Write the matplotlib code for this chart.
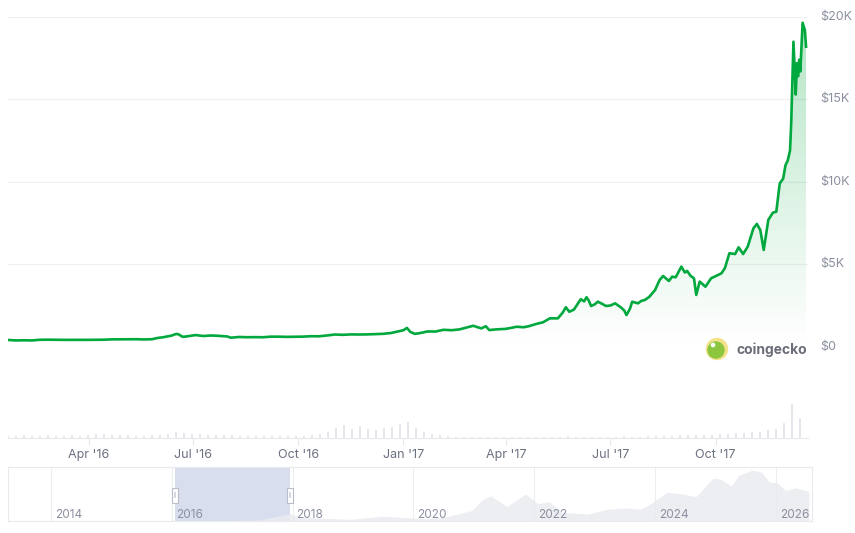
import numpy as np
import pandas as pd
import matplotlib
matplotlib.use('Agg')
import matplotlib.pyplot as plt
import matplotlib.dates as mdates
from matplotlib.colors import to_rgb
from matplotlib.patches import Circle, Rectangle
from matplotlib.transforms import blended_transform_factory

plt.rcParams['font.family'] = ['Inter', 'DejaVu Sans']

# BTC price (USD)
price_dates = [
    '2016-01-21', '2016-01-28', '2016-02-04', '2016-02-11', '2016-02-18', '2016-02-25',
    '2016-03-03', '2016-03-10', '2016-03-17', '2016-03-24', '2016-03-31', '2016-04-07',
    '2016-04-14', '2016-04-21', '2016-04-28', '2016-05-05', '2016-05-12', '2016-05-19',
    '2016-05-26', '2016-05-31', '2016-06-05', '2016-06-12', '2016-06-16', '2016-06-18',
    '2016-06-22', '2016-06-26', '2016-07-03', '2016-07-10', '2016-07-17', '2016-07-24',
    '2016-07-31', '2016-08-03', '2016-08-10', '2016-08-17', '2016-08-24', '2016-08-31',
    '2016-09-07', '2016-09-14', '2016-09-21', '2016-09-28', '2016-10-05', '2016-10-12',
    '2016-10-19', '2016-10-26', '2016-11-02', '2016-11-09', '2016-11-16', '2016-11-23',
    '2016-11-30', '2016-12-07', '2016-12-14', '2016-12-21', '2016-12-25', '2017-01-01',
    '2017-01-04', '2017-01-07', '2017-01-11', '2017-01-15', '2017-01-22', '2017-01-29',
    '2017-02-05', '2017-02-12', '2017-02-19', '2017-02-26', '2017-03-03', '2017-03-10',
    '2017-03-14', '2017-03-17', '2017-03-23', '2017-03-31', '2017-04-05', '2017-04-10',
    '2017-04-16', '2017-04-21', '2017-04-27', '2017-05-03', '2017-05-09', '2017-05-16',
    '2017-05-20', '2017-05-23', '2017-05-26', '2017-05-30', '2017-06-05', '2017-06-08',
    '2017-06-10', '2017-06-12', '2017-06-14', '2017-06-17', '2017-06-20', '2017-06-24',
    '2017-06-27', '2017-07-01', '2017-07-05', '2017-07-10', '2017-07-13', '2017-07-15',
    '2017-07-18', '2017-07-20', '2017-07-25', '2017-07-28', '2017-07-31', '2017-08-04',
    '2017-08-09', '2017-08-13', '2017-08-16', '2017-08-21', '2017-08-24', '2017-08-27',
    '2017-09-01', '2017-09-04', '2017-09-06', '2017-09-09', '2017-09-12', '2017-09-14',
    '2017-09-17', '2017-09-22', '2017-09-27', '2017-10-03', '2017-10-06', '2017-10-09',
    '2017-10-13', '2017-10-18', '2017-10-21', '2017-10-25', '2017-10-29', '2017-11-03',
    '2017-11-06', '2017-11-09', '2017-11-12', '2017-11-16', '2017-11-20', '2017-11-23',
    '2017-11-26', '2017-11-29', '2017-12-01', '2017-12-03', '2017-12-05', '2017-12-06',
    '2017-12-08', '2017-12-10', '2017-12-11', '2017-12-12', '2017-12-13', '2017-12-14',
    '2017-12-16', '2017-12-18', '2017-12-19',
]
prices = [
    410, 380, 390, 380, 420, 425,
    420, 415, 418, 416, 415, 422,
    424, 445, 448, 448, 454, 440,
    453, 530, 575, 670, 770, 760,
    595, 630, 705, 650, 680, 655,
    620, 545, 590, 575, 580, 573,
    610, 608, 596, 605, 610, 637,
    630, 680, 740, 720, 745, 740,
    745, 765, 780, 830, 890, 1000,
    1140, 895, 780, 820, 925, 920,
    1025, 1000, 1050, 1180, 1270, 1110,
    1240, 1010, 1050, 1080, 1140, 1210,
    1180, 1250, 1380, 1480, 1720, 1720,
    2050, 2390, 2120, 2250, 2880, 2750,
    3000, 2800, 2470, 2560, 2730, 2590,
    2470, 2500, 2630, 2390, 2200, 1920,
    2300, 2730, 2630, 2780, 2830, 3030,
    3440, 4050, 4290, 3990, 4250, 4210,
    4860, 4500, 4600, 4300, 4150, 3140,
    3950, 3640, 4150, 4350, 4450, 4760,
    5670, 5620, 6030, 5620, 6070, 7180,
    7450, 7080, 5870, 7690, 8130, 8190,
    9900, 10200, 11000, 11300, 11900, 13500,
    18500, 15300, 17200, 16400, 17400, 16700,
    19650, 19200, 18200,
]

# weekly trading volume (relative units), starting 2016-01-21
vol_start = '2016-01-21'
volumes = [
    2, 2, 3, 2, 2, 3, 2, 2, 3, 2, 3,
    4, 4, 3, 3, 3, 2, 2, 3, 3,
    4, 6, 5, 4,
    4, 3, 3, 3,
    3, 2, 2, 2, 2,
    2, 2, 2, 2,
    2, 3, 4, 6,
    10, 13, 9, 12,
    9, 8, 10, 11, 14,
    16, 10, 6, 4,
    3, 2, 1, 1,
    1, 1, 1, 1, 1,
    1, 1, 1, 1,
    1, 1, 1, 2,
    1, 1, 1, 1,
    1, 1, 2, 1, 1,
    2, 2, 2, 2,
    3, 3, 3, 3,
    3, 4, 4, 5,
    5, 6, 6, 8, 9,
    15, 34, 20,
]

# long-range navigator (price in $K)
nav_dates = [
    '2013-04-01', '2013-11-30', '2014-01-15', '2014-06-15', '2015-01-15', '2015-11-01',
    '2016-06-15', '2017-01-01', '2017-06-15', '2017-12-17', '2018-02-06', '2018-06-15',
    '2018-12-15', '2019-06-26', '2019-12-15', '2020-03-15', '2020-07-15', '2020-12-20',
    '2021-02-20', '2021-04-14', '2021-07-20', '2021-11-09', '2022-01-24', '2022-04-01',
    '2022-06-18', '2022-11-20', '2023-03-20', '2023-07-15', '2023-10-10', '2023-12-15',
    '2024-03-14', '2024-06-15', '2024-09-06', '2024-12-17', '2025-02-01', '2025-04-08',
    '2025-05-22', '2025-08-14', '2025-10-06', '2025-11-21', '2026-01-10', '2026-03-01',
    '2026-05-01', '2026-07-20',
]
nav_prices = [
    0.1, 1.0, 0.85, 0.6, 0.25, 0.35,
    0.7, 1.0, 2.5, 17, 9, 6.5,
    3.7, 11, 7.2, 5, 9.5, 24,
    48, 58, 33, 62, 40, 44,
    20, 16, 27, 30, 27, 42,
    66, 62, 56, 98, 96, 80,
    105, 117, 112, 90, 88, 70,
    76, 68,
]
nav_years = [2014, 2016, 2018, 2020, 2022, 2024, 2026]

green = '#00a83e'
grid_c = '#eef0f3'
text_c = '#6b7080'

W, H = 855, 533
fig = plt.figure(figsize=(W / 100, H / 100), dpi=100)

# pixel -> date mapping of the main time axis
ref = mdates.date2num(pd.Timestamp('2016-04-01'))
ppd = 1.1436
x0 = ref + (8 - 89) / ppd
x1 = ref + (808 - 89) / ppd

def fx(px):
    return px / W

def fy(py):
    return 1 - py / H

# main price panel
ax = fig.add_axes([fx(8), fy(346.7), fx(800), (346.7 - 17) / H])
d = pd.to_datetime(price_dates)
dn = mdates.date2num(d)
poly = ax.fill_between(dn, prices, 0, color='none', lw=0)
grad = np.zeros((256, 1, 4))
grad[..., :3] = to_rgb(green)
grad[:, 0, 3] = np.linspace(0.30, 0.0, 256)
im = ax.imshow(grad, aspect='auto', extent=[x0, x1, 0, 20000], origin='upper', zorder=1)
im.set_clip_path(poly.get_paths()[0], transform=ax.transData)
ax.plot(dn, prices, color=green, lw=1.9, zorder=3, solid_joinstyle='round')
ax.set_xlim(x0, x1)
ax.set_ylim(0, 20000)
for v in [0, 5000, 10000, 15000, 20000]:
    ax.axhline(v, color=grid_c, lw=0.9, zorder=0)
    lab = '$0' if v == 0 else '$%dK' % (v // 1000)
    ax.text(1.015, v, lab, transform=blended_transform_factory(ax.transAxes, ax.transData),
            ha='left', va='center', fontsize=9, color='#8b90a0')
ax.set_xticks([])
ax.set_yticks([])
for s in ax.spines.values():
    s.set_visible(False)

# coingecko mark
fig.add_artist(Circle((717, H - 349), 10.5, transform=None, color='#f3e28a', zorder=5))
fig.add_artist(Circle((716, H - 350), 8, transform=None, color='#8cc63f', zorder=6))
fig.add_artist(Circle((713, H - 345), 1.6, transform=None, color='white', zorder=7))
fig.text(fx(736), fy(350), 'coingecko', fontsize=10, fontweight='bold',
         color='#6b6e78', ha='left', va='center')

# volume panel
axv = fig.add_axes([fx(8), fy(438), fx(800), 43 / H])
vd = mdates.date2num(pd.date_range(vol_start, periods=len(volumes), freq='7D'))
axv.bar(vd, volumes, width=1.6, color='#e6e7ec', lw=0)
axv.set_xlim(x0, x1)
axv.set_ylim(0, 43)
axv.set_yticks([])
axv.xaxis.set_major_locator(mdates.MonthLocator(bymonth=[1, 4, 7, 10]))
axv.xaxis.set_major_formatter(mdates.DateFormatter("%b '%y"))
axv.tick_params(axis='x', length=5, width=0.8, color='#e6e8ec', pad=3,
                labelsize=9, labelcolor=text_c)
for k, s in axv.spines.items():
    s.set_visible(k == 'bottom')
axv.spines['bottom'].set_color('#e6e8ec')

# navigator
nav = fig.add_axes([fx(8), fy(521), fx(804), 54 / H])
npp = 60.4 / 365.25
y14 = mdates.date2num(pd.Timestamp('2014-01-01'))
n0 = y14 + (8 - 51) / npp
n1 = y14 + (812 - 51) / npp
sel0 = dn[0]
sel1 = dn[-1]
nav.axvspan(sel0, sel1, color='#d9deef', lw=0, zorder=1)
nd = mdates.date2num(pd.to_datetime(nav_dates))
nav.fill_between(nd, nav_prices, 0, color='#e9ebef', lw=0, zorder=2, alpha=0.85)
for yr in nav_years:
    t = mdates.date2num(pd.Timestamp('%d-01-01' % yr))
    nav.axvline(t, color='#eceef2', lw=0.8, zorder=0)
    nav.text(t + 4 / npp, 0.12, str(yr), transform=blended_transform_factory(nav.transData, nav.transAxes),
             ha='left', va='center', fontsize=8.5, color='#8b90a0', zorder=4)
bt = blended_transform_factory(nav.transData, nav.transAxes)
for sx in [sel0, sel1]:
    nav.add_patch(Rectangle((sx - 3 / npp, 0.34), 6 / npp, 0.28, transform=bt,
                            facecolor='white', edgecolor='#b9bdc9', lw=0.8, zorder=5))
    nav.add_patch(Rectangle((sx - 1 / npp, 0.42), 2 / npp, 0.12, transform=bt,
                            facecolor='#d5d8e0', lw=0, zorder=6))
nav.set_xlim(n0, n1)
nav.set_ylim(0, 124)
nav.set_xticks([])
nav.set_yticks([])
for s in nav.spines.values():
    s.set_color('#e8eaee')
    s.set_linewidth(0.8)

fig.savefig('out.png', dpi=100)
